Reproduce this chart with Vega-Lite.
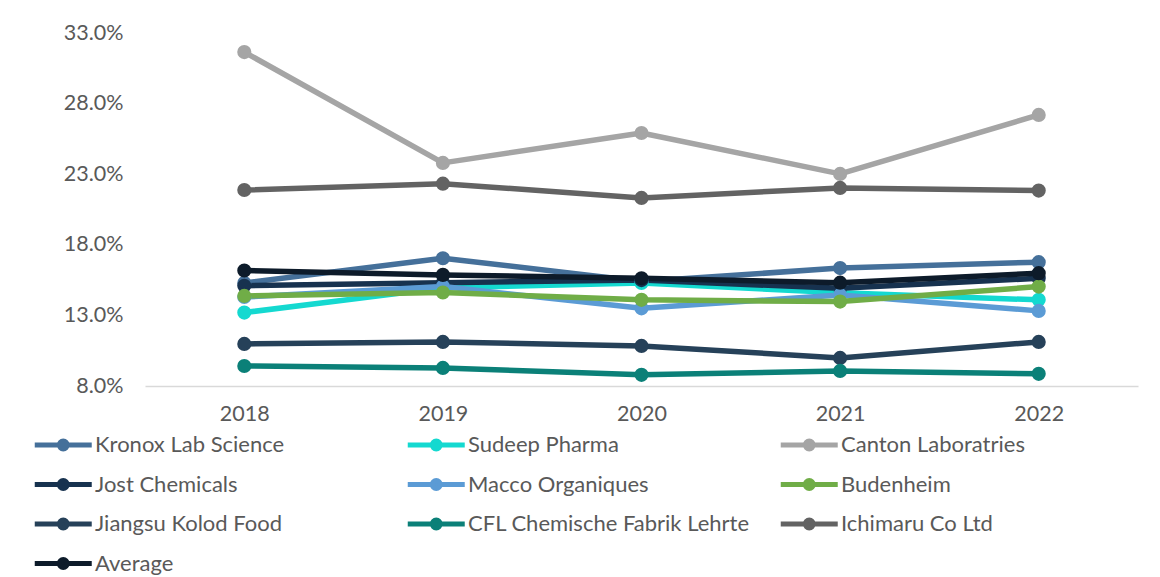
{
  "$schema": "https://vega.github.io/schema/vega-lite/v6.json",
  "width": 993,
  "height": 353,
  "autosize": {"type": "none"},
  "padding": {"left": 145, "top": 33, "right": 22, "bottom": 191},
  "background": "white",
  "config": {"view": {"stroke": null}, "font": "Lato"},
  "data": {"values": [
    {"company": "Kronox Lab Science", "year": "2018", "margin": 15.3},
    {"company": "Kronox Lab Science", "year": "2019", "margin": 17.05},
    {"company": "Kronox Lab Science", "year": "2020", "margin": 15.4},
    {"company": "Kronox Lab Science", "year": "2021", "margin": 16.35},
    {"company": "Kronox Lab Science", "year": "2022", "margin": 16.77},
    {"company": "Sudeep Pharma", "year": "2018", "margin": 13.2},
    {"company": "Sudeep Pharma", "year": "2019", "margin": 14.95},
    {"company": "Sudeep Pharma", "year": "2020", "margin": 15.3},
    {"company": "Sudeep Pharma", "year": "2021", "margin": 14.6},
    {"company": "Sudeep Pharma", "year": "2022", "margin": 14.1},
    {"company": "Canton Laboratries", "year": "2018", "margin": 31.65},
    {"company": "Canton Laboratries", "year": "2019", "margin": 23.8},
    {"company": "Canton Laboratries", "year": "2020", "margin": 25.92},
    {"company": "Canton Laboratries", "year": "2021", "margin": 23.02},
    {"company": "Canton Laboratries", "year": "2022", "margin": 27.2},
    {"company": "Jost Chemicals", "year": "2018", "margin": 15.1},
    {"company": "Jost Chemicals", "year": "2019", "margin": 15.32},
    {"company": "Jost Chemicals", "year": "2020", "margin": 15.5},
    {"company": "Jost Chemicals", "year": "2021", "margin": 14.92},
    {"company": "Jost Chemicals", "year": "2022", "margin": 15.63},
    {"company": "Macco Organiques", "year": "2018", "margin": 14.3},
    {"company": "Macco Organiques", "year": "2019", "margin": 15.04},
    {"company": "Macco Organiques", "year": "2020", "margin": 13.5},
    {"company": "Macco Organiques", "year": "2021", "margin": 14.45},
    {"company": "Macco Organiques", "year": "2022", "margin": 13.32},
    {"company": "Budenheim", "year": "2018", "margin": 14.38},
    {"company": "Budenheim", "year": "2019", "margin": 14.62},
    {"company": "Budenheim", "year": "2020", "margin": 14.1},
    {"company": "Budenheim", "year": "2021", "margin": 13.98},
    {"company": "Budenheim", "year": "2022", "margin": 15.04},
    {"company": "Jiangsu Kolod Food", "year": "2018", "margin": 10.98},
    {"company": "Jiangsu Kolod Food", "year": "2019", "margin": 11.12},
    {"company": "Jiangsu Kolod Food", "year": "2020", "margin": 10.84},
    {"company": "Jiangsu Kolod Food", "year": "2021", "margin": 9.99},
    {"company": "Jiangsu Kolod Food", "year": "2022", "margin": 11.12},
    {"company": "CFL Chemische Fabrik Lehrte", "year": "2018", "margin": 9.42},
    {"company": "CFL Chemische Fabrik Lehrte", "year": "2019", "margin": 9.28},
    {"company": "CFL Chemische Fabrik Lehrte", "year": "2020", "margin": 8.79},
    {"company": "CFL Chemische Fabrik Lehrte", "year": "2021", "margin": 9.07},
    {"company": "CFL Chemische Fabrik Lehrte", "year": "2022", "margin": 8.86},
    {"company": "Ichimaru Co Ltd", "year": "2018", "margin": 21.88},
    {"company": "Ichimaru Co Ltd", "year": "2019", "margin": 22.33},
    {"company": "Ichimaru Co Ltd", "year": "2020", "margin": 21.32},
    {"company": "Ichimaru Co Ltd", "year": "2021", "margin": 22.03},
    {"company": "Ichimaru Co Ltd", "year": "2022", "margin": 21.84},
    {"company": "Average", "year": "2018", "margin": 16.18},
    {"company": "Average", "year": "2019", "margin": 15.87},
    {"company": "Average", "year": "2020", "margin": 15.63},
    {"company": "Average", "year": "2021", "margin": 15.32},
    {"company": "Average", "year": "2022", "margin": 15.99}
  ]},
  "mark": {
    "type": "line",
    "strokeWidth": 5.5,
    "strokeCap": "round",
    "strokeJoin": "round",
    "point": {"filled": true, "size": 200, "opacity": 1}
  },
  "encoding": {
    "x": {
      "field": "year",
      "type": "ordinal",
      "scale": {"type": "point", "padding": 0.5},
      "axis": {
        "title": null,
        "labelAngle": 0,
        "ticks": false,
        "labelPadding": 17,
        "labelFont": "Lato",
        "labelFontSize": 21.5,
        "labelColor": "#595959",
        "domainColor": "#D9D9D9",
        "domainWidth": 1.3,
        "grid": false
      }
    },
    "y": {
      "field": "margin",
      "type": "quantitative",
      "scale": {"domain": [8, 33], "nice": false, "zero": false},
      "axis": {
        "title": null,
        "values": [8, 13, 18, 23, 28, 33],
        "labelExpr": "format(datum.value, '.1f') + '%'",
        "ticks": false,
        "domain": false,
        "grid": false,
        "labelPadding": 22,
        "labelFont": "Lato",
        "labelFontSize": 21.5,
        "labelColor": "#595959"
      }
    },
    "color": {
      "field": "company",
      "type": "nominal",
      "sort": null,
      "scale": {
        "domain": ["Kronox Lab Science", "Sudeep Pharma", "Canton Laboratries", "Jost Chemicals", "Macco Organiques", "Budenheim", "Jiangsu Kolod Food", "CFL Chemische Fabrik Lehrte", "Ichimaru Co Ltd", "Average"],
        "range": ["#45709A", "#14D9D0", "#A5A5A5", "#17324F", "#5B9BD5", "#70AD47", "#264159", "#0B8078", "#636363", "#0D1B2A"]
      },
      "legend": {
        "title": null,
        "orient": "none",
        "direction": "horizontal",
        "legendX": -113,
        "legendY": 395,
        "columns": 3,
        "gridAlign": "all",
        "columnPadding": 20,
        "rowPadding": 8.5,
        "labelFont": "Lato",
        "labelFontSize": 22,
        "labelColor": "#595959",
        "labelLimit": 500,
        "labelOffset": 29,
        "symbolType": "M-1,0L0.72,0A0.28,0.28,0,1,1,1.28,0A0.28,0.28,0,1,1,0.72,0M1.28,0L3,0",
        "symbolSize": 812,
        "symbolStrokeWidth": 5,
        "encode": {
          "symbols": {
            "update": {
              "fill": {"scale": "color", "field": "value"},
              "stroke": {"scale": "color", "field": "value"},
              "strokeWidth": {"value": 5},
              "opacity": {"value": 1}
            }
          }
        }
      }
    }
  }
}
